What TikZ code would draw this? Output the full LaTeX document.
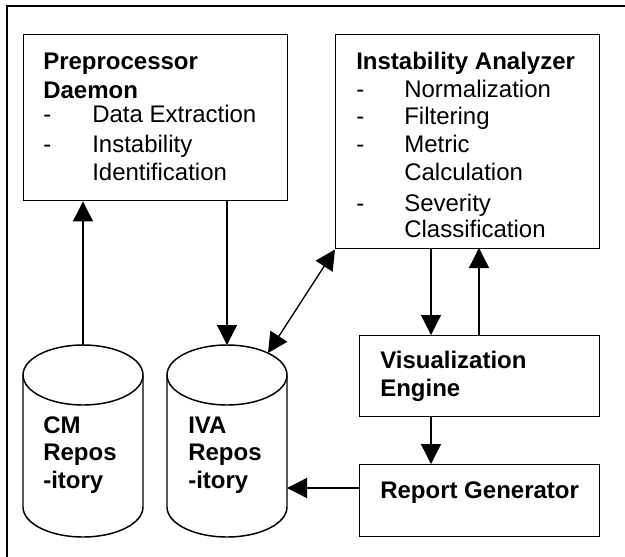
\documentclass[tikz,border=0pt]{standalone}
\usepackage{fontspec}
\setmainfont{Liberation Sans}
\usetikzlibrary{arrows.meta}
\begin{document}
\begin{tikzpicture}[x=0.75pt,y=-0.75pt,
  box/.style={draw,line width=1.1pt,inner sep=0,anchor=north west},
  txt/.style={inner sep=0,anchor=base west,font=\fontsize{18}{21}\selectfont},
  btxt/.style={txt,font=\fontsize{18}{21}\selectfont\bfseries},
  cyl/.style={draw,line width=1.1pt},
  arr/.style={line width=1pt,-{Triangle[length=15pt,width=15pt]}},
  darr/.style={line width=1pt,{Triangle[length=15pt,width=15pt]}-{Triangle[length=15pt,width=15pt]}}]
\useasboundingbox (0,0) rectangle (625,557);
% outer frame (only top and left edges visible)
\draw[line width=1.3pt] (7,557) -- (7,6) -- (625,6);
% boxes
\node[box,minimum width=264*0.75pt,minimum height=166*0.75pt] (pre) at (23,34) {};
\node[box,minimum width=264*0.75pt,minimum height=214*0.75pt] (ia) at (335,34) {};
\node[box,minimum width=240*0.75pt,minimum height=81*0.75pt] (vis) at (359,335) {};
\node[box,minimum width=240*0.75pt,minimum height=72*0.75pt] (rep) at (359,464) {};
% cylinders
\draw[cyl] (83,375) ellipse [x radius=60,y radius=30];
\draw[cyl] (23,375) -- (23,507) arc[start angle=180,end angle=0,x radius=60,y radius=30] -- (143,375);
\draw[cyl] (227,375) ellipse [x radius=60,y radius=30];
\draw[cyl] (167,375) -- (167,507) arc[start angle=180,end angle=0,x radius=60,y radius=30] -- (287,375);
\coordinate (cm) at (83,345);
\coordinate (iva) at (227,345);
\coordinate (ivaside) at (287,488);
\coordinate (ivarim) at (268,353);
% texts
\node[btxt] (t1) at (43,69) {Preprocessor};
\node[btxt] (t2) at (43,98) {Daemon};
\node[txt] (t3) at (43,122) {-};
\node[txt] (t4) at (92,122) {Data Extraction};
\node[txt] (t5) at (43,152) {-};
\node[txt] (t6) at (92,152) {Instability};
\node[txt] (t7) at (92,180) {Identification};
\node[btxt] (u1) at (356,69) {Instability Analyzer};
\node[txt] (u2) at (356,97) {-};
\node[txt] (u3) at (404,97) {Normalization};
\node[txt] (u4) at (356,124) {-};
\node[txt] (u5) at (404,124) {Filtering};
\node[txt] (u6) at (356,152) {-};
\node[txt] (u7) at (404,152) {Metric};
\node[txt] (u8) at (404,180) {Calculation};
\node[txt] (u9) at (356,211) {-};
\node[txt] (u10) at (404,211) {Severity};
\node[txt] (u11) at (404,237) {Classification};
\node[btxt] (v1) at (380,368) {Visualization};
\node[btxt] (v2) at (380,396) {Engine};
\node[btxt] (r1) at (380,498) {Report Generator};
\node[btxt] (c1) at (43,433) {CM};
\node[btxt] (c2) at (43,460) {Repos};
\node[btxt] (c3) at (43,488) {-itory};
\node[btxt] (d1) at (188,433) {IVA};
\node[btxt] (d2) at (188,460) {Repos};
\node[btxt] (d3) at (188,488) {-itory};
% connectors
\draw[arr] (cm) -- (cm |- pre.south);
\draw[arr] (iva |- pre.south) -- (iva);
\draw[darr] (ivarim) -- (ia.south west);
\draw[arr] (431,248) -- (431,335);
\draw[arr] (479,335) -- (479,248);
\draw[arr] (vis.south -| 431,0) -- (rep.north -| 431,0);
\draw[arr] (rep.west |- ivaside) -- (ivaside);
\end{tikzpicture}
\end{document}
